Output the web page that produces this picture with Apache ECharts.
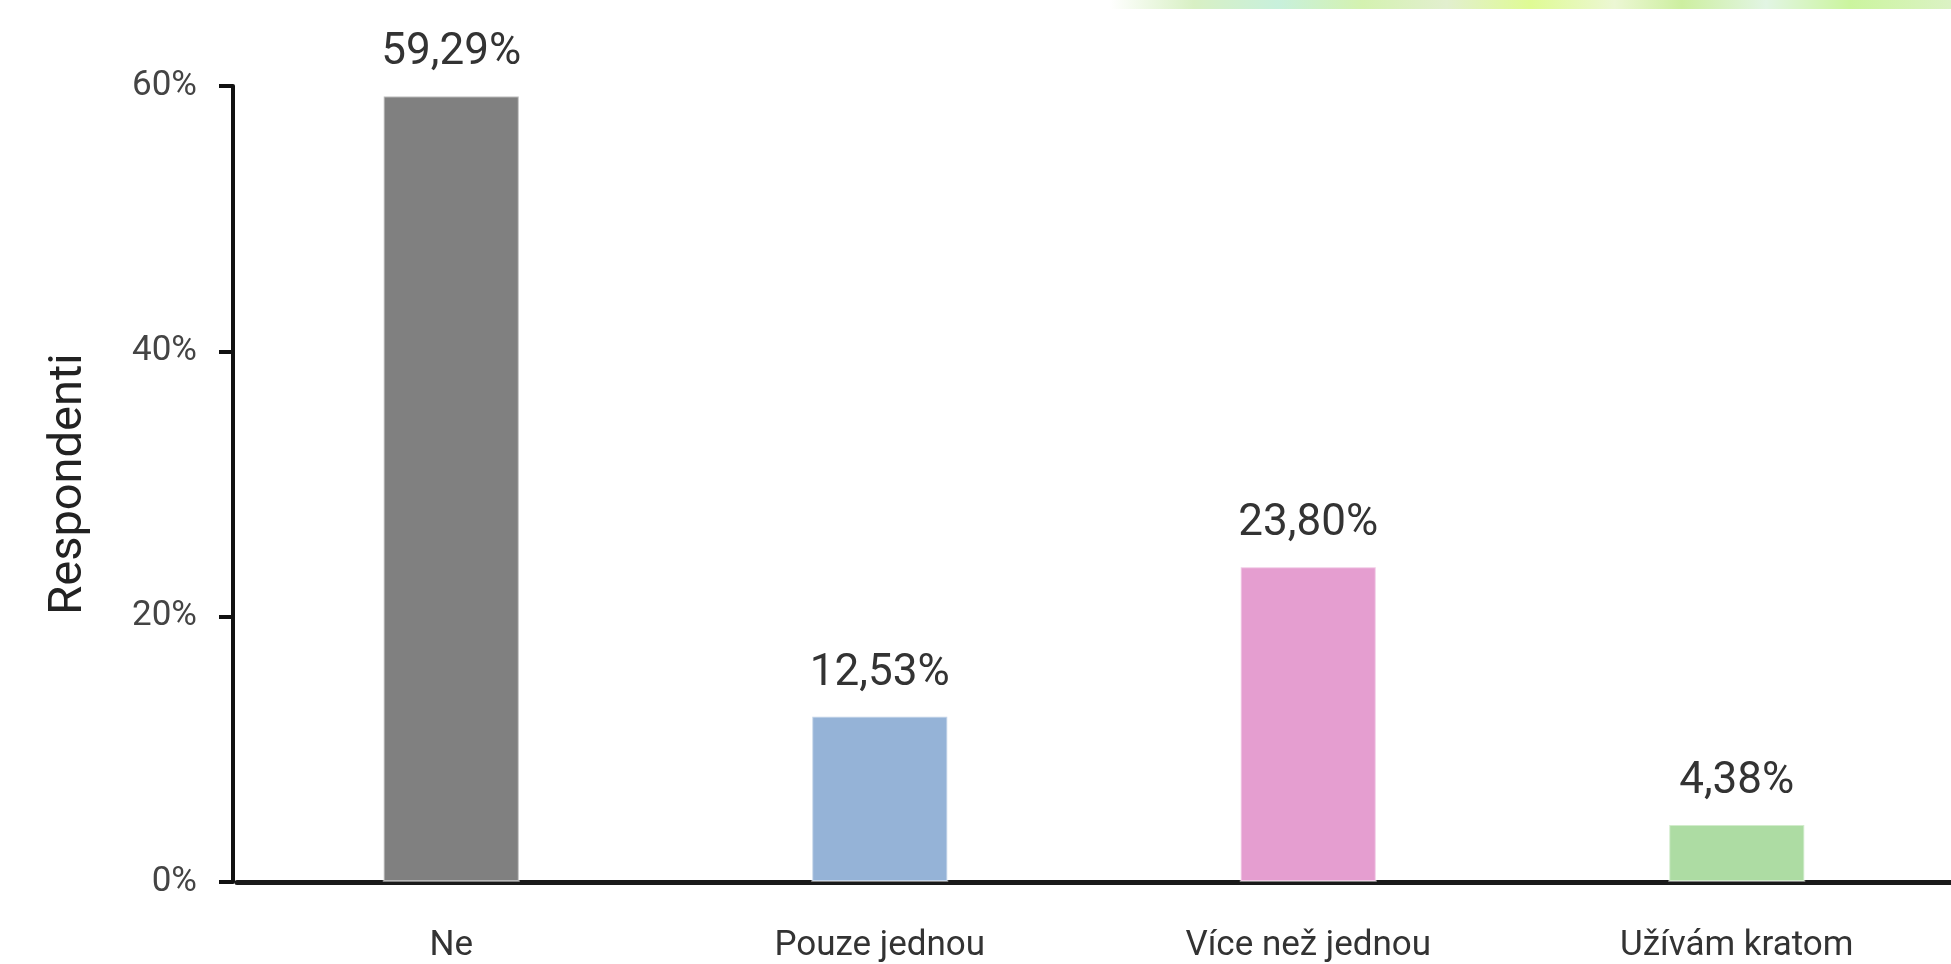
<!DOCTYPE html>
<html>
<head>
<meta charset="utf-8">
<script src="https://cdn.jsdelivr.net/npm/echarts@6/dist/echarts.min.js"></script>
<style>
  html, body { margin: 0; padding: 0; background: #fff; }
  #chart { width: 1951px; height: 964px; }
</style>
</head>
<body>
<div id="chart"></div>
<script>
const categories = ["Ne", "Pouze jednou", "Více než jednou", "Užívám kratom"];
const values = [59.29, 12.53, 23.80, 4.38];
const barColors = ["#808080", "#95b3d7", "#e59ed0", "#addca3"];
const yTicks = [0, 20, 40, 60];

const font = "Roboto, 'Liberation Sans', sans-serif";

var myChart = echarts.init(document.getElementById("chart"));

let option = {
    backgroundColor: "#fff",
    animation: false,
    graphic: [
        {
            type: "rect",
            shape: { x: 1110, y: 0, width: 841, height: 9 },
            style: {
                fill: new echarts.graphic.LinearGradient(0, 0, 1, 0, [
                    { offset: 0, color: "#ffffff" },
                    { offset: 0.1, color: "#d8f0c4" },
                    { offset: 0.2, color: "#c8f0dc" },
                    { offset: 0.3, color: "#d4f2b0" },
                    { offset: 0.4, color: "#e2efcf" },
                    { offset: 0.5, color: "#dffb94" },
                    { offset: 0.6, color: "#ecf7d4" },
                    { offset: 0.68, color: "#cdefa0" },
                    { offset: 0.78, color: "#e2f5e4" },
                    { offset: 0.88, color: "#cbf59e" },
                    { offset: 1, color: "#dbf2c4" },
                ]),
            },
            silent: true,
        },
    ],
    grid: {
        left: 237,
        top: 86,
        width: 1732,
        height: 797,
        containLabel: false,
    },
    xAxis: {
        type: "category",
        data: categories,
        axisLine: { show: true, lineStyle: { color: "#1a1a1a", width: 5 } },
        axisTick: { show: false },
        axisLabel: {
            margin: 47,
            fontSize: 35,
            fontFamily: font,
            color: "#333",
        },
    },
    yAxis: {
        type: "value",
        min: 0,
        max: 60,
        interval: 20,
        offset: 4,
        name: "Respondenti",
        nameLocation: "middle",
        nameGap: 140,
        nameTextStyle: { fontSize: 47, fontFamily: font, color: "#222" },
        axisLine: { show: true, lineStyle: { color: "#111", width: 4 } },
        axisTick: { show: true, length: 14, lineStyle: { color: "#111", width: 4 } },
        splitLine: { show: false },
        axisLabel: {
            margin: 36,
            fontSize: 35,
            fontFamily: font,
            color: "#444",
            formatter: (v) => (yTicks.includes(v) ? v + "%" : ""),
        },
    },
    series: [
        {
            type: "bar",
            barWidth: 137,
            data: values.map((v, i) => ({
                value: v,
                itemStyle: { color: barColors[i] },
            })),
            itemStyle: {
                borderColor: "rgba(255,255,255,0.45)",
                borderWidth: 2,
            },
            label: {
                show: true,
                position: "top",
                distance: 20,
                fontSize: 44,
                fontFamily: font,
                color: "#333",
                formatter: (p) => p.value.toFixed(2).replace(".", ",") + "%",
            },
        },
    ],
};
myChart.setOption(option);
</script>
</body>
</html>
